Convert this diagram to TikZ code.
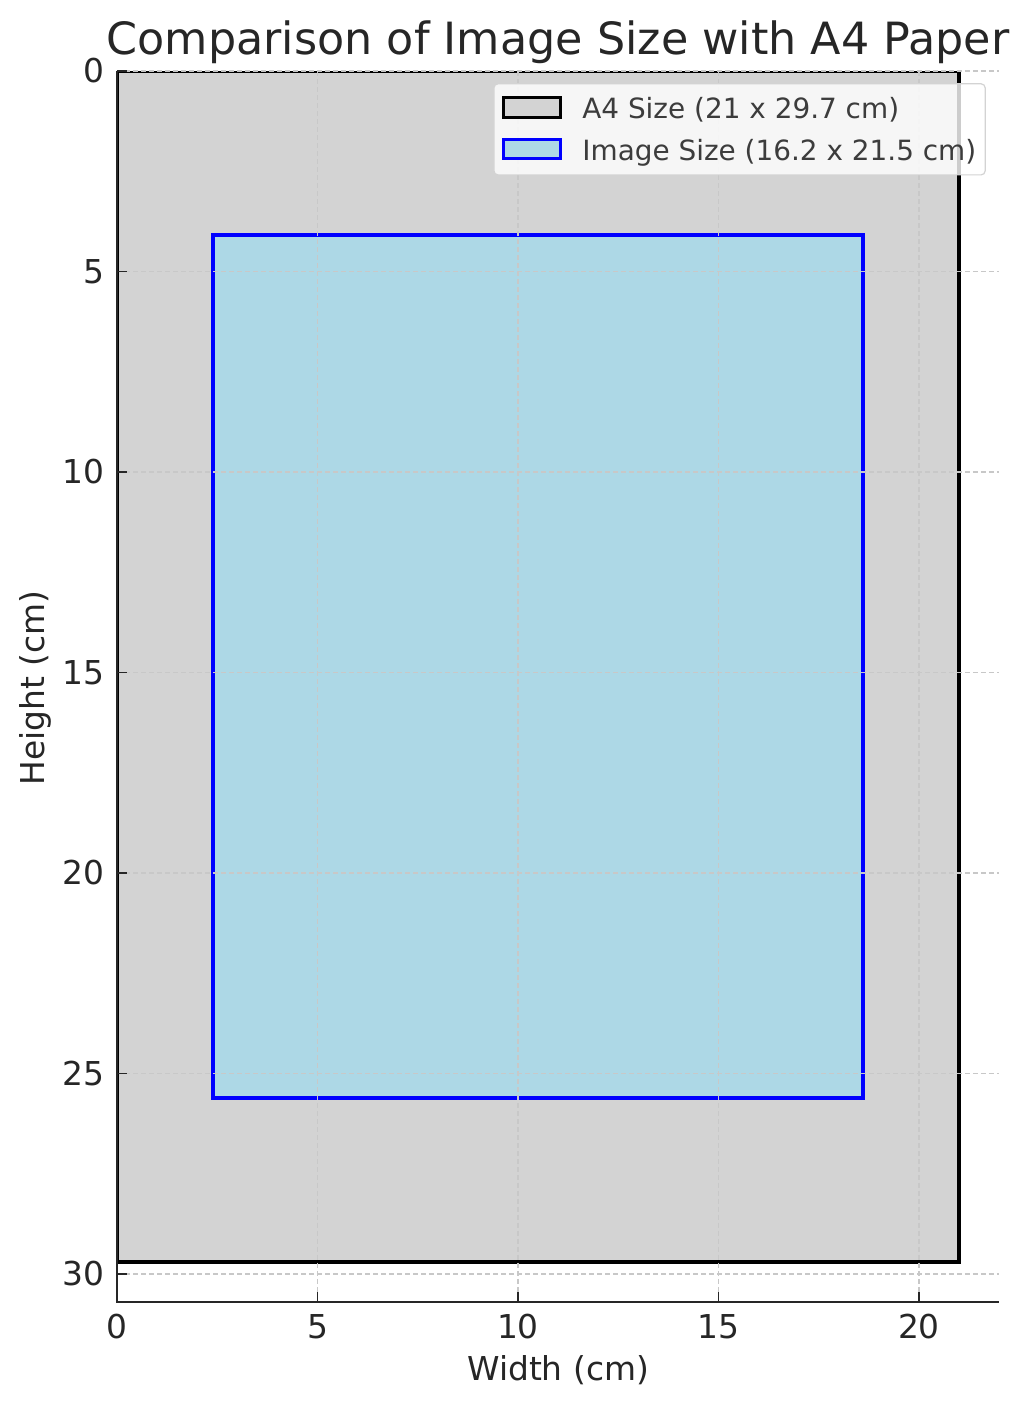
\documentclass[tikz,border=0pt]{standalone}
\usepackage{fontspec}
\setmainfont{DejaVu Sans}
\definecolor{txtgray}{HTML}{262626}
\definecolor{gridgray}{HTML}{C8C8C8}
\definecolor{paper}{HTML}{D3D3D3}
\definecolor{imgblue}{HTML}{ADD8E6}
\tikzset{
  gridline/.style={gridgray,line width=1.3bp,dash pattern=on 5bp off 3bp},
  spine/.style={txtgray,line width=1.6bp},
  ticklabel/.style={txtgray,font=\fontsize{33}{38}\selectfont,inner sep=0pt},
  legendtext/.style={txtgray!90,font=\fontsize{28}{33}\selectfont,anchor=west,inner sep=0pt}
}
\begin{document}
\begin{tikzpicture}[x={(40.1bp,0)},y={(0,-40.1bp)}]
  \useasboundingbox[fill=white] (-2.918,-1.771) rectangle (22.743,33.367);

  % sheets
  \begin{scope}
    \clip (0,0) rectangle (22,30.7);
    \draw[fill=paper,line width=4bp] (0,0) rectangle (21,29.7);
    \draw[draw=blue,fill=imgblue,line width=4bp] (2.4,4.1) rectangle (18.6,25.6);
  \end{scope}

  % grid
  \foreach \gx in {0,5,...,20}
    \draw[gridline] (\gx,0) -- (\gx,30.7);
  \foreach \gy in {0,5,...,30}
    \draw[gridline] (0,\gy) -- (22,\gy);

  % axes
  \draw[spine] (0,0) -- (0,30.7) -- (22,30.7);
  \foreach \gx in {0,5,...,20} {
    \draw[spine] (\gx,30.7) -- (\gx,30.45);
    \node[ticklabel] (xtick\gx) at (\gx,31.32) {\gx};
  }
  \foreach \gy in {0,5,...,30} {
    \draw[spine] (0,\gy) -- (0.25,\gy);
    \node[ticklabel,anchor=east] (ytick\gy) at (-0.3,\gy) {\gy};
  }
  \node[ticklabel] (xlabel) at (11.0,32.39) {Width (cm)};
  \node[ticklabel,rotate=90] (ylabel) at (-2.04,15.39) {Height (cm)};
  \node[txtgray,font=\fontsize{44.6}{50}\selectfont,inner sep=0pt] (title)
    at (11.0,-0.72) {Comparison of Image Size with A4 Paper};

  % legend
  \draw[gridgray!80,line width=1.2bp,fill=white,fill opacity=0.8,rounded corners=4bp]
    (9.40,0.32) rectangle (21.65,2.59);
  \draw[fill=paper,line width=3bp] (9.63,0.67) rectangle (11.07,1.15);
  \draw[draw=blue,fill=imgblue,line width=3bp] (9.63,1.72) rectangle (11.07,2.19);
  \node[legendtext] (leg1) at (11.6,0.97) {A4 Size (21 x 29.7 cm)};
  \node[legendtext] (leg2) at (11.6,2.04) {Image Size (16.2 x 21.5 cm)};
\end{tikzpicture}
\end{document}
